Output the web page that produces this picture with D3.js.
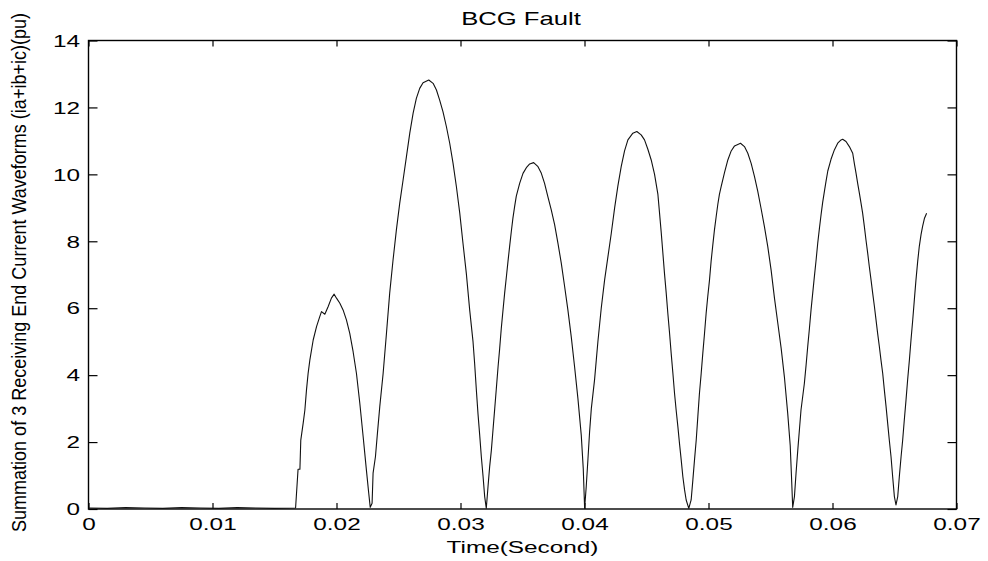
<!DOCTYPE html>
<html>
<head>
<meta charset="utf-8">
<script src="https://cdn.jsdelivr.net/npm/d3@7"></script>
<style>
  html, body { margin: 0; padding: 0; background: #fff; }
  svg { display: block; }
  text { font-family: "Liberation Sans", Arial, Helvetica, sans-serif; fill: #000; }
</style>
</head>
<body>
<svg id="chart" width="988" height="561"></svg>
<script>
// ---- data ----
const chartTitle = "BCG Fault";
const xAxisTitle = "Time(Second)";
const yAxisTitle = "Summation of 3 Receiving End Current Waveforms (ia+ib+ic)(pu)";

const xTickValues = [0, 0.01, 0.02, 0.03, 0.04, 0.05, 0.06, 0.07];
const xTickLabels = ["0", "0.01", "0.02", "0.03", "0.04", "0.05", "0.06", "0.07"];
const yTickValues = [0, 2, 4, 6, 8, 10, 12, 14];
const yTickLabels = ["0", "2", "4", "6", "8", "10", "12", "14"];

// time in seconds
const timeS = [
  0.0000, 0.0015, 0.0030, 0.0045, 0.0060, 0.0075, 0.0090, 0.0105, 0.0120, 0.0135, 0.0150, 0.01670,
  0.01690, 0.01705, 0.01712, 0.01731, 0.01745, 0.01758, 0.01771, 0.01785, 0.01812, 0.01839, 0.01865,
  0.01879, 0.01906, 0.01933, 0.01959, 0.01981, 0.02000, 0.02027, 0.02053, 0.02080, 0.02107, 0.02134,
  0.02161, 0.02188, 0.02215, 0.02241, 0.02260, 0.02272,
  0.02287, 0.02295, 0.02314, 0.02330, 0.02349, 0.02376, 0.02403, 0.02429, 0.02456, 0.02483, 0.02510,
  0.02537, 0.02564, 0.02591, 0.02618, 0.02644, 0.02671, 0.02698, 0.02744, 0.02779, 0.02806, 0.02832,
  0.02859, 0.02886, 0.02913, 0.02940, 0.02967, 0.02994, 0.03020, 0.03047, 0.03074, 0.03101, 0.03114,
  0.03128, 0.03141, 0.03155, 0.03168, 0.03182, 0.03195, 0.03208,
  0.03222, 0.03235, 0.03249, 0.03262, 0.03276, 0.03289, 0.03303, 0.03316, 0.03329, 0.03343, 0.03356,
  0.03370, 0.03383, 0.03396, 0.03410, 0.03423, 0.03437, 0.03450, 0.03477, 0.03504, 0.03531, 0.03558,
  0.03590, 0.03625, 0.03652, 0.03678, 0.03705, 0.03732, 0.03759, 0.03786, 0.03813, 0.03840, 0.03866,
  0.03893, 0.03920, 0.03947, 0.03974, 0.03990, 0.04001,
  0.04014, 0.04028, 0.04041, 0.04055, 0.04081, 0.04095, 0.04108, 0.04135, 0.04162, 0.04189, 0.04216,
  0.04243, 0.04269, 0.04296, 0.04323, 0.04350, 0.04390, 0.04422, 0.04457, 0.04484, 0.04511, 0.04538,
  0.04565, 0.04592, 0.04605, 0.04619, 0.04632, 0.04645, 0.04659, 0.04672, 0.04686, 0.04699, 0.04713,
  0.04726, 0.04739, 0.04753, 0.04766, 0.04780, 0.04793, 0.04807, 0.04820, 0.04841,
  0.04860, 0.04874, 0.04887, 0.04901, 0.04914, 0.04927, 0.04941, 0.04954, 0.04968, 0.04981, 0.04994,
  0.05008, 0.05021, 0.05035, 0.05048, 0.05062, 0.05075, 0.05088, 0.05102, 0.05129, 0.05156, 0.05183,
  0.05210, 0.05258, 0.05290, 0.05317, 0.05344, 0.05371, 0.05397, 0.05424, 0.05451, 0.05478, 0.05505,
  0.05532, 0.05559, 0.05586, 0.05612, 0.05639, 0.05659, 0.05669, 0.05679,
  0.05693, 0.05706, 0.05720, 0.05733, 0.05746, 0.05773, 0.05787, 0.05800, 0.05814, 0.05827, 0.05854,
  0.05868, 0.05881, 0.05895, 0.05908, 0.05921, 0.05935, 0.05948, 0.05962, 0.05988, 0.06015, 0.06042,
  0.06069, 0.06082, 0.06109, 0.06136, 0.06163, 0.06176, 0.06190, 0.06203, 0.06217, 0.06230, 0.06243,
  0.06257, 0.06270, 0.06284, 0.06297, 0.06311, 0.06324, 0.06338, 0.06351, 0.06364, 0.06378, 0.06391,
  0.06405, 0.06418, 0.06432, 0.06445, 0.06458, 0.06472, 0.06485, 0.06499, 0.06512,
  0.06526, 0.06539, 0.06553, 0.06566, 0.06579, 0.06593, 0.06606, 0.06620, 0.06633, 0.06647, 0.06660,
  0.06673, 0.06687, 0.06700, 0.06714, 0.06727, 0.06741, 0.06759
];

// summed current in per-unit
const currentPU = [
  0.03, 0.02, 0.04, 0.03, 0.02, 0.04, 0.03, 0.02, 0.04, 0.03, 0.02, 0.03,
  1.19, 1.19, 2.06, 2.56, 2.96, 3.56, 4.05, 4.45, 5.05, 5.45, 5.75,
  5.90, 5.82, 6.05, 6.30, 6.42, 6.30, 6.15, 5.95, 5.65, 5.25, 4.70,
  4.05, 3.16, 2.16, 1.17, 0.47, 0.05,
  0.17, 1.07, 1.56, 2.26, 3.06, 4.05, 5.25, 6.45, 7.44, 8.34, 9.14,
  9.83, 10.53, 11.23, 11.83, 12.27, 12.57, 12.74, 12.82, 12.72, 12.52, 12.22,
  11.87, 11.43, 10.93, 10.33, 9.63, 8.84, 7.94, 7.04, 5.95, 5.00, 4.35,
  3.55, 2.85, 2.20, 1.56, 0.97, 0.37, 0.02,
  0.67, 1.26, 1.76, 2.36, 3.00, 3.60, 4.25, 4.80, 5.40, 5.95, 6.45,
  6.94, 7.40, 7.84, 8.30, 8.70, 9.05, 9.35, 9.73, 10.03, 10.20, 10.31,
  10.35, 10.23, 10.03, 9.73, 9.33, 8.94, 8.50, 7.94, 7.34, 6.64, 5.95,
  5.15, 4.25, 3.30, 2.20, 1.20, 0.02,
  0.67, 1.50, 2.30, 3.00, 3.86, 4.45, 5.00, 6.00, 6.84, 7.54, 8.24,
  9.00, 9.65, 10.23, 10.70, 11.03, 11.23, 11.28, 11.18, 11.03, 10.75, 10.43,
  10.00, 9.40, 8.85, 8.25, 7.65, 7.04, 6.45, 5.85, 5.25, 4.65, 4.05,
  3.46, 2.96, 2.46, 1.96, 1.46, 0.97, 0.57, 0.27, 0.02,
  0.27, 0.87, 1.46, 2.06, 2.76, 3.46, 4.05, 4.65, 5.25, 5.85, 6.35,
  6.84, 7.40, 7.90, 8.34, 8.74, 9.10, 9.40, 9.63, 10.05, 10.43, 10.70,
  10.85, 10.93, 10.83, 10.63, 10.33, 9.93, 9.50, 8.98, 8.44, 7.84, 7.14,
  6.30, 5.55, 4.80, 3.95, 2.85, 1.90, 1.00, 0.05,
  0.37, 1.07, 1.76, 2.36, 2.96, 3.75, 4.30, 4.85, 5.40, 5.95, 6.95,
  7.45, 7.95, 8.40, 8.80, 9.17, 9.50, 9.80, 10.10, 10.45, 10.73, 10.93,
  11.03, 11.05, 10.98, 10.83, 10.63, 10.33, 10.03, 9.73, 9.43, 9.14, 8.84,
  8.44, 8.04, 7.64, 7.24, 6.84, 6.45, 6.05, 5.65, 5.25, 4.85, 4.45,
  4.05, 3.56, 3.06, 2.56, 2.06, 1.56, 0.97, 0.37, 0.12,
  0.37, 0.97, 1.56, 2.06, 2.66, 3.26, 3.86, 4.45, 5.05, 5.65, 6.25,
  6.84, 7.40, 7.85, 8.20, 8.45, 8.68, 8.84
];

// ---- drawing ----
const W = 988, H = 561;
const plot = { left: 88.5, right: 956.5, top: 40.5, bottom: 509 };
const STRETCH = 1.45;          // the reference text is rendered horizontally widened
const FS = 16.8;

const svg = d3.select("#chart");

const x = d3.scaleLinear().domain([0, 0.07]).range([plot.left, plot.right]);
const y = d3.scaleLinear().domain([0, 14]).range([plot.bottom, plot.top]);

const xFmt = d => xTickLabels[xTickValues.indexOf(d)];
const yFmt = d => yTickLabels[yTickValues.indexOf(d)];

// bottom axis
const gx = svg.append("g")
  .attr("transform", `translate(0,${plot.bottom})`)
  .call(d3.axisBottom(x).tickValues(xTickValues).tickFormat(xFmt).tickSizeInner(-6).tickSizeOuter(0));
gx.selectAll("text")
  .attr("y", 21).attr("dy", null).attr("x", 0)
  .attr("transform", `scale(${STRETCH},1)`)
  .style("font-size", FS + "px");

// top axis (ticks only)
svg.append("g")
  .attr("transform", `translate(0,${plot.top})`)
  .call(d3.axisTop(x).tickValues(xTickValues).tickFormat("").tickSizeInner(-6).tickSizeOuter(0));

// left axis
const gy = svg.append("g")
  .attr("transform", `translate(${plot.left},0)`)
  .call(d3.axisLeft(y).tickValues(yTickValues).tickFormat(yFmt).tickSizeInner(-9).tickSizeOuter(0));
gy.selectAll("text")
  .attr("x", -8.5 / STRETCH).attr("dy", "0.34em")
  .attr("transform", `scale(${STRETCH},1)`)
  .style("font-size", FS + "px");

// right axis (ticks only)
svg.append("g")
  .attr("transform", `translate(${plot.right},0)`)
  .call(d3.axisRight(y).tickValues(yTickValues).tickFormat("").tickSizeInner(-9).tickSizeOuter(0));

svg.selectAll(".domain").remove();
svg.selectAll(".tick line").attr("stroke", "#000").attr("stroke-width", 1.2);

// box
svg.append("rect")
  .attr("x", plot.left).attr("y", plot.top)
  .attr("width", plot.right - plot.left).attr("height", plot.bottom - plot.top)
  .attr("fill", "none").attr("stroke", "#000").attr("stroke-width", 1.4);

// waveform
const pts = timeS.map((t, i) => [t, currentPU[i]]);
const line = d3.line().x(d => x(d[0])).y(d => y(d[1])).curve(d3.curveLinear);
svg.append("path")
  .datum(pts)
  .attr("d", line)
  .attr("fill", "none")
  .attr("stroke", "#111")
  .attr("stroke-width", 1.1)
  .attr("stroke-linejoin", "round");

// title
svg.append("text")
  .attr("transform", `translate(${(plot.left + plot.right) / 2 - 1.5},25.3) scale(${STRETCH},1)`)
  .attr("text-anchor", "middle")
  .style("font-size", "17.7px")
  .text(chartTitle);

// x label
svg.append("text")
  .attr("transform", `translate(${(plot.left + plot.right) / 2},553) scale(${STRETCH},1)`)
  .attr("text-anchor", "middle")
  .style("font-size", FS + "px")
  .text(xAxisTitle);

// y label
svg.append("text")
  .attr("transform", `translate(26,272.5) scale(${STRETCH},1) rotate(-90)`)
  .attr("text-anchor", "middle")
  .attr("textLength", 519)
  .attr("lengthAdjust", "spacingAndGlyphs")
  .style("font-size", "14px")
  .text(yAxisTitle);
</script>
</body>
</html>
